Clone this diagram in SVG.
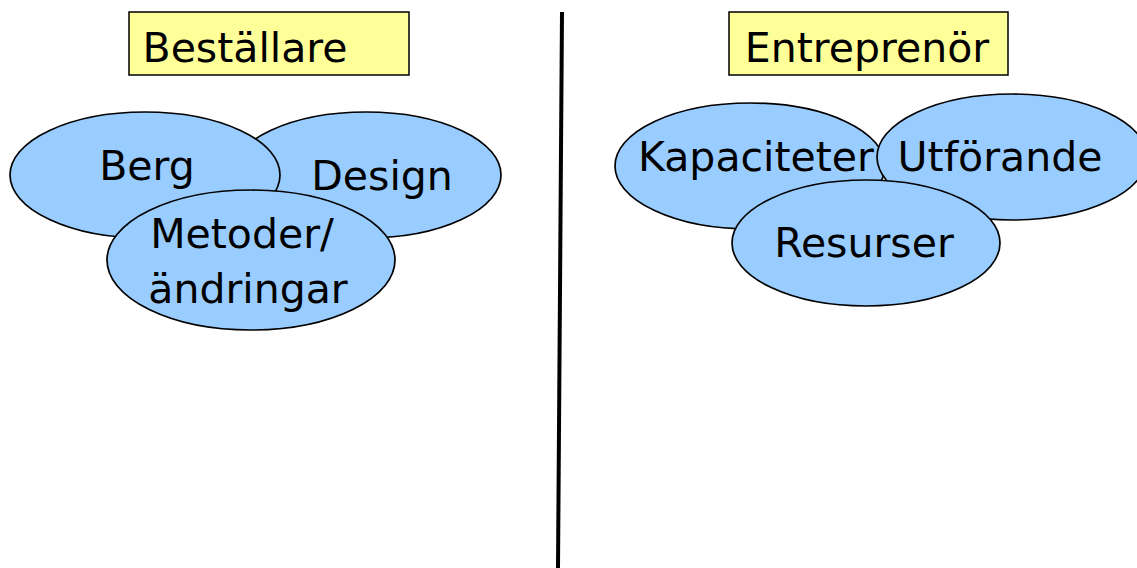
<svg xmlns="http://www.w3.org/2000/svg" width="1137" height="568" viewBox="0 0 1137 568">
<style>
.lbl{fill:#ffff99;stroke:#000;stroke-width:1.5}
.ell{fill:#99ccff;stroke:#000;stroke-width:1.7}
text{font-family:"DejaVu Sans","Verdana",sans-serif;font-size:41px;fill:#000;text-anchor:middle}
</style>
<rect width="1137" height="568" fill="#fff"/>
<g id="divider">
<line x1="562" y1="12" x2="558" y2="568" stroke="#000" stroke-width="4"/>
</g>
<g id="bestallare">
<rect class="lbl" x="129" y="12" width="280" height="63"/>
<text x="245" y="62">Beställare</text>
</g>
<g id="entreprenor">
<rect class="lbl" x="729" y="12" width="279" height="63"/>
<text x="867" y="62">Entreprenör</text>
</g>
<g id="design">
<ellipse class="ell" cx="366" cy="175" rx="135" ry="63"/>
<text x="382" y="190">Design</text>
</g>
<g id="berg">
<ellipse class="ell" cx="145" cy="175" rx="135" ry="63"/>
<text x="147" y="180">Berg</text>
</g>
<g id="metoder">
<ellipse class="ell" cx="251" cy="260" rx="144" ry="70"/>
<text x="242" y="248">Metoder/</text>
<text x="248" y="303">ändringar</text>
</g>
<g id="kapaciteter">
<ellipse class="ell" cx="750" cy="166" rx="135" ry="63"/>
<text x="756" y="171">Kapaciteter</text>
</g>
<g id="utforande">
<ellipse class="ell" cx="1012" cy="157" rx="135" ry="63"/>
<text x="1000" y="171">Utförande</text>
</g>
<g id="resurser">
<ellipse class="ell" cx="866" cy="243" rx="134" ry="63"/>
<text x="864" y="257">Resurser</text>
</g>
</svg>
